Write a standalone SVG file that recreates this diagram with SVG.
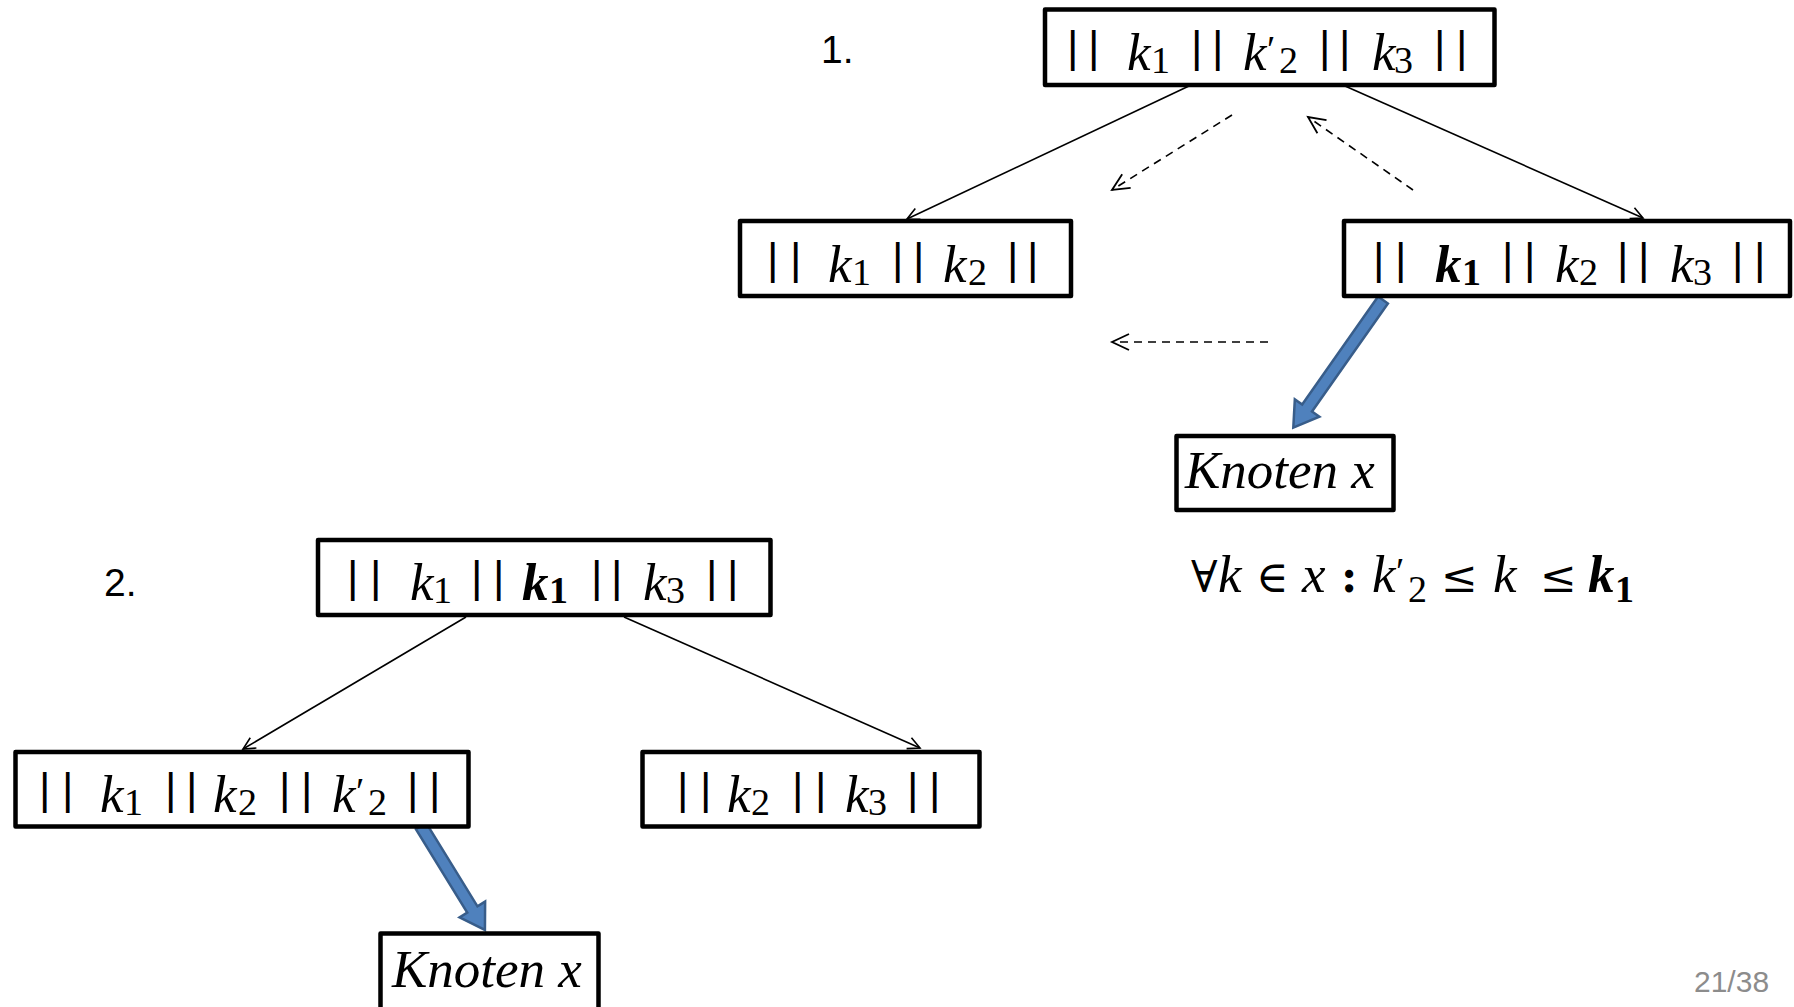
<svg xmlns="http://www.w3.org/2000/svg" width="1794" height="1007" viewBox="0 0 1794 1007">
  <style>
    .box { fill: #ffffff; stroke: #000000; stroke-width: 4.5; stroke-linejoin: round; }
    .m { font-family: "Liberation Serif", "DejaVu Serif", serif; font-style: italic; font-size: 53px; fill: #000; }
    .bar { font-family: "Liberation Sans", "DejaVu Sans", sans-serif; font-style: normal; font-size: 44px; }
    .s { font-style: normal; font-size: 38px; }
    .b { font-weight: bold; }
    .op { font-family: "DejaVu Serif", "Liberation Serif", serif; font-style: normal; font-size: 44px; }
    .edge { fill: none; stroke: #000; stroke-width: 1.6; }
    .dash { fill: none; stroke: #000; stroke-width: 1.6; stroke-dasharray: 8 6; }
    .blue { fill: #4f81bd; stroke: #385d8a; stroke-width: 2.5; stroke-linejoin: miter; }
    .num { font-family: "Liberation Sans", "Open Sans", sans-serif; font-size: 39px; fill: #000; }
    .page { font-family: "Liberation Sans", "Open Sans", sans-serif; font-size: 30px; fill: #8c8c8c; }
  </style>
  <defs>
    <marker id="vhead" markerUnits="userSpaceOnUse" markerWidth="20" markerHeight="20" orient="auto" overflow="visible">
      <path d="M -12 -6 L 0 0 L -12 6" fill="none" stroke="#000" stroke-width="1.6"/>
    </marker>
    <marker id="vhead-lg" markerUnits="userSpaceOnUse" markerWidth="24" markerHeight="24" orient="auto" overflow="visible">
      <path d="M -17 -8 L 0 0 L -17 8" fill="none" stroke="#000" stroke-width="1.8" stroke-dasharray="none"/>
    </marker>
  </defs>

  <rect width="1794" height="1007" fill="#ffffff"/>

  <!-- step labels and page number -->
  <text class="num" x="821" y="63">1.</text>
  <text class="num" x="104" y="596">2.</text>
  <text class="page" x="1694" y="992">21/38</text>

  <!-- connectors -->
  <g id="connectors">
    <line class="edge" x1="1189" y1="86" x2="907" y2="219" marker-end="url(#vhead)"/>
    <line class="edge" x1="1345" y1="86" x2="1643" y2="218" marker-end="url(#vhead)"/>
    <line class="edge" x1="466" y1="617" x2="243" y2="749" marker-end="url(#vhead)"/>
    <line class="edge" x1="624" y1="617" x2="920" y2="748" marker-end="url(#vhead)"/>
    <line class="dash" x1="1232" y1="115" x2="1112" y2="190" marker-end="url(#vhead-lg)"/>
    <line class="dash" x1="1413" y1="190" x2="1308" y2="117" marker-end="url(#vhead-lg)"/>
    <line class="dash" x1="1268" y1="342" x2="1112" y2="342" marker-end="url(#vhead-lg)"/>
    <polygon class="blue" transform="translate(1383,300) rotate(125.1)" points="0,-6 132,-6 132,-15 156,0 132,15 132,6 0,6"/>
    <polygon class="blue" transform="translate(421,826) rotate(58.4)" points="0,-6 98,-6 98,-15 122,0 98,15 98,6 0,6"/>
  </g>

  <!-- top node: || k1 || k'2 || k3 || -->
  <g id="node-top">
    <rect class="box" x="1045" y="9.5" width="449.5" height="75.5"/>
    <text class="m" y="70"><tspan class="bar" x="1067 1088" y="62">||</tspan><tspan x="1127" y="70">k</tspan><tspan class="s" x="1151" y="73">1</tspan><tspan class="bar" x="1191 1212" y="62">||</tspan><tspan x="1243" y="70">k</tspan><tspan class="s" x="1267" y="62">′</tspan><tspan class="s" x="1279" y="73">2</tspan><tspan class="bar" x="1319 1339" y="62">||</tspan><tspan x="1372" y="70">k</tspan><tspan class="s" x="1394" y="73">3</tspan><tspan class="bar" x="1434 1456" y="62">||</tspan></text>
  </g>

  <!-- left child: || k1 || k2 || -->
  <g id="node-left">
    <rect class="box" x="740" y="221" width="331" height="75"/>
    <text class="m" y="282"><tspan class="bar" x="767 790" y="274">||</tspan><tspan x="828" y="282">k</tspan><tspan class="s" x="852" y="285">1</tspan><tspan class="bar" x="892 913" y="274">||</tspan><tspan x="943" y="282">k</tspan><tspan class="s" x="968" y="285">2</tspan><tspan class="bar" x="1007 1027" y="274">||</tspan></text>
  </g>

  <!-- right child: || k1 || k2 || k3 || -->
  <g id="node-right">
    <rect class="box" x="1344" y="221" width="446" height="75"/>
    <text class="m" y="282"><tspan class="bar" x="1373 1395" y="274">||</tspan><tspan class="b" x="1435" y="282">k</tspan><tspan class="s b" x="1462" y="285">1</tspan><tspan class="bar" x="1502 1524" y="274">||</tspan><tspan x="1555" y="282">k</tspan><tspan class="s" x="1579" y="285">2</tspan><tspan class="bar" x="1617 1638" y="274">||</tspan><tspan x="1670" y="282">k</tspan><tspan class="s" x="1693" y="285">3</tspan><tspan class="bar" x="1732 1754" y="274">||</tspan></text>
  </g>

  <!-- node x (step 1) -->
  <g id="node-x1">
    <rect class="box" x="1176.5" y="436" width="217" height="74"/>
    <text class="m" x="1185" y="488">Knoten x</text>
  </g>

  <!-- condition -->
  <g id="condition">
    <text class="m" y="592"><tspan class="op" x="1191">∀</tspan><tspan x="1218">k</tspan><tspan class="op" x="1256">∈</tspan><tspan x="1302">x</tspan><tspan class="op b" x="1341">:</tspan><tspan x="1372">k</tspan><tspan class="s" x="1396" y="584">′</tspan><tspan class="s" x="1408" y="602">2</tspan><tspan class="op" x="1441" y="592">≤</tspan><tspan x="1493">k</tspan><tspan class="op" x="1540">≤</tspan><tspan class="b" x="1588">k</tspan><tspan class="s b" x="1615" y="602">1</tspan></text>
  </g>

  <!-- step 2 root: || k1 || k1 || k3 || -->
  <g id="node-root2">
    <rect class="box" x="318" y="540" width="452.5" height="75"/>
    <text class="m" y="600"><tspan class="bar" x="347 370" y="592">||</tspan><tspan x="410" y="600">k</tspan><tspan class="s" x="433" y="603">1</tspan><tspan class="bar" x="471 493" y="592">||</tspan><tspan class="b" x="522" y="600">k</tspan><tspan class="s b" x="549" y="603">1</tspan><tspan class="bar" x="591 611" y="592">||</tspan><tspan x="643" y="600">k</tspan><tspan class="s" x="666" y="603">3</tspan><tspan class="bar" x="706 727" y="592">||</tspan></text>
  </g>

  <!-- step 2 left child: || k1 || k2 || k'2 || -->
  <g id="node-left2">
    <rect class="box" x="15.5" y="752" width="453" height="74.5"/>
    <text class="m" y="812"><tspan class="bar" x="39 62" y="804">||</tspan><tspan x="100" y="812">k</tspan><tspan class="s" x="124" y="815">1</tspan><tspan class="bar" x="165 186" y="804">||</tspan><tspan x="213" y="812">k</tspan><tspan class="s" x="238" y="815">2</tspan><tspan class="bar" x="279 301" y="804">||</tspan><tspan x="332" y="812">k</tspan><tspan class="s" x="356" y="804">′</tspan><tspan class="s" x="368" y="815">2</tspan><tspan class="bar" x="407 429" y="804">||</tspan></text>
  </g>

  <!-- step 2 right child: || k2 || k3 || -->
  <g id="node-right2">
    <rect class="box" x="642.5" y="752" width="337" height="74.5"/>
    <text class="m" y="812"><tspan class="bar" x="677 700" y="804">||</tspan><tspan x="727" y="812">k</tspan><tspan class="s" x="751" y="815">2</tspan><tspan class="bar" x="792 815" y="804">||</tspan><tspan x="845" y="812">k</tspan><tspan class="s" x="868" y="815">3</tspan><tspan class="bar" x="907 929" y="804">||</tspan></text>
  </g>

  <!-- node x (step 2) -->
  <g id="node-x2">
    <rect class="box" x="380.5" y="933.5" width="218" height="76"/>
    <text class="m" x="392" y="987">Knoten x</text>
  </g>
</svg>
